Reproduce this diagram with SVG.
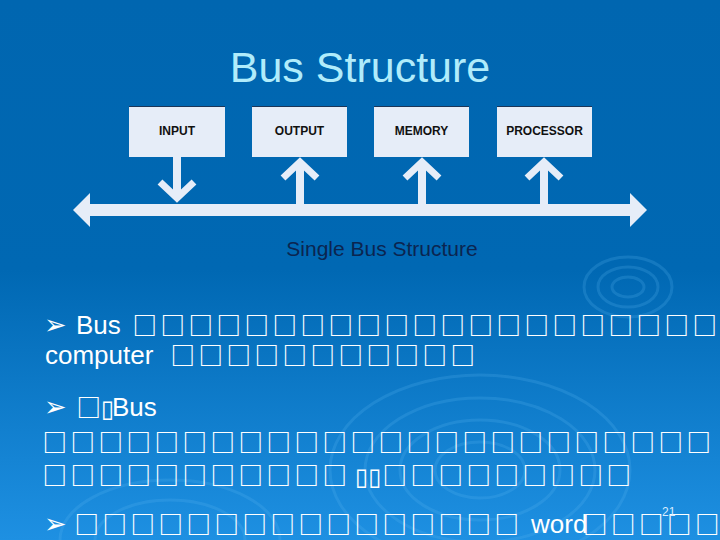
<svg xmlns="http://www.w3.org/2000/svg" width="720" height="540" viewBox="0 0 720 540">
  <defs>
    <linearGradient id="bg" x1="0" y1="0" x2="0" y2="540" gradientUnits="userSpaceOnUse">
      <stop offset="0" stop-color="#0066b0"/>
      <stop offset="0.5" stop-color="#0068b3"/>
      <stop offset="1" stop-color="#1e90e2"/>
    </linearGradient>
    <style>
      .box { fill: #e6edf8; }
      .boxtop { stroke: #1b3558; stroke-width: 1; }
      .lbl { font-family: "Liberation Sans", Arial, sans-serif; font-weight: bold; font-size: 12px; fill: #111111; text-anchor: middle; }
      .arr { fill: #e6edf8; }
      .chev { fill: none; stroke: #e6edf8; stroke-width: 7; stroke-linejoin: miter; stroke-miterlimit: 10; }
      .body { font-family: "Liberation Sans", Arial, sans-serif; font-size: 26px; fill: #ffffff; }
      .tofu { font-family: "Noto Sans CJK SC", "DejaVu Sans", sans-serif; font-size: 24.5px; font-weight: bold; letter-spacing: 3.5px; fill: #ffffff; }
      .narrow { font-family: "DejaVu Sans", sans-serif; font-size: 24px; fill: #ffffff; }
      .bullet { font-family: "DejaVu Sans", sans-serif; font-size: 27px; fill: #ffffff; }
      .ripple { fill: none; stroke: #5ab4f2; stroke-opacity: 0.22; stroke-width: 3; }
    </style>
  </defs>

  <rect x="0" y="0" width="720" height="540" fill="url(#bg)"/>

  <g id="ripples">
    <ellipse class="ripple" cx="628" cy="287" rx="44" ry="30"/>
    <ellipse class="ripple" cx="628" cy="287" rx="30" ry="20"/>
    <ellipse class="ripple" cx="628" cy="287" rx="16" ry="10"/>
    <ellipse class="ripple" cx="480" cy="470" rx="150" ry="95"/>
    <ellipse class="ripple" cx="480" cy="470" rx="115" ry="72"/>
    <ellipse class="ripple" cx="480" cy="470" rx="80" ry="50"/>
    <ellipse class="ripple" cx="480" cy="470" rx="45" ry="28"/>
    <ellipse class="ripple" cx="170" cy="540" rx="110" ry="60"/>
    <ellipse class="ripple" cx="170" cy="540" rx="75" ry="40"/>
  </g>

  <text x="360" y="82" font-family="Liberation Sans, Arial, sans-serif" font-size="43" fill="#b0ecfb" text-anchor="middle">Bus Structure</text>

  <g id="input">
    <rect class="box" x="129" y="106" width="96" height="51"/>
    <line class="boxtop" x1="129" y1="106.5" x2="225" y2="106.5"/>
    <text class="lbl" x="177" y="135">INPUT</text>
  </g>
  <g id="output">
    <rect class="box" x="252" y="106" width="95" height="51"/>
    <line class="boxtop" x1="252" y1="106.5" x2="347" y2="106.5"/>
    <text class="lbl" x="299.5" y="135">OUTPUT</text>
  </g>
  <g id="memory">
    <rect class="box" x="374" y="106" width="95" height="51"/>
    <line class="boxtop" x1="374" y1="106.5" x2="469" y2="106.5"/>
    <text class="lbl" x="421.5" y="135">MEMORY</text>
  </g>
  <g id="processor">
    <rect class="box" x="497" y="106" width="95" height="51"/>
    <line class="boxtop" x1="497" y1="106.5" x2="592" y2="106.5"/>
    <text class="lbl" x="544.5" y="135">PROCESSOR</text>
  </g>

  <g id="connectors">
    <polygon class="arr" points="73,210 90,193 90,204 630,204 630,193 647,210 630,227 630,216 90,216 90,227"/>
    <rect class="arr" x="173" y="157" width="8" height="40"/>
    <polyline class="chev" points="160,182 177,198 194,182"/>
    <rect class="arr" x="296" y="165" width="8" height="40"/>
    <polyline class="chev" points="283,178 300,162 317,178"/>
    <rect class="arr" x="418" y="165" width="8" height="40"/>
    <polyline class="chev" points="405,178 422,162 439,178"/>
    <rect class="arr" x="540" y="165" width="8" height="40"/>
    <polyline class="chev" points="527,178 544,162 561,178"/>
  </g>

  <text x="382" y="256" font-family="Liberation Sans, Arial, sans-serif" font-size="21" fill="#0b2550" text-anchor="middle">Single Bus Structure</text>

  <g id="bullets">
    <text class="bullet" x="44" y="334">➢</text>
    <text class="body" x="76" y="334">Bus</text>
    <text class="tofu" x="132.5" y="335" letter-spacing="3.3">□□□□□□□□□□□□□□□□□□□□□</text>

    <text class="body" x="45" y="364">computer</text>
    <text class="tofu" x="170.5" y="365">□□□□□□□□□□□</text>

    <text class="bullet" x="44" y="416">➢</text>
    <text class="tofu" x="76.5" y="417" letter-spacing="0">□</text>
    <text class="narrow" x="101" y="417">▯</text>
    <text class="body" x="112" y="416">Bus</text>

    <text class="tofu" x="42.5" y="452" letter-spacing="3.4">□□□□□□□□□□□□□□□□□□□□□□□□</text>

    <text class="tofu" x="42.5" y="485">□□□□□□□□□□□</text>
    <text class="narrow" x="355" y="485">▯▯</text>
    <text class="tofu" x="382.5" y="485">□□□□□□□□□</text>

    <text class="bullet" x="44" y="533">➢</text>
    <text class="tofu" x="74.5" y="534">□□□□□□□□□□□□□□□□</text>
    <text class="body" x="531" y="533">word</text>
    <text class="tofu" x="583" y="534" letter-spacing="1.8">□□□□□</text>
    <text x="662" y="516" font-family="Liberation Sans, Arial, sans-serif" font-size="12" fill="#d8ecff">21</text>
  </g>
</svg>
